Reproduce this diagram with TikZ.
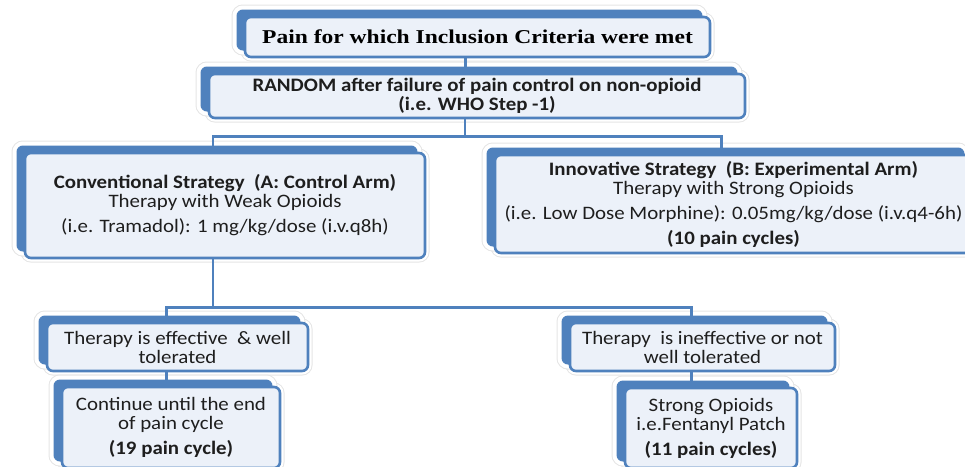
\documentclass[tikz,border=0pt]{standalone}
\usepackage{fontspec}
\setmainfont{Carlito}[FakeStretch=1.1]
\newfontfamily\titlefont{Liberation Serif}[FakeStretch=1.2]
\definecolor{flowblu}{RGB}{79,129,189}
\definecolor{flowbg}{RGB}{236,241,249}
\definecolor{flowtxt}{RGB}{30,30,30}
\usetikzlibrary{positioning}

\tikzset{
  card/.style={draw=flowblu, line width=2.6pt, fill=flowbg, rounded corners=6pt,
    inner sep=0pt, align=center, text=flowtxt,
    font=\fontsize{19}{19}\selectfont,
    preaction={draw=black!10, line width=9pt},
    preaction={draw=white, line width=7pt},
    preaction={draw=black!10, line width=11pt, transform canvas={shift={(-8pt,7pt)}}},
    preaction={draw=white, line width=9pt, transform canvas={shift={(-8pt,7pt)}}},
    preaction={draw=flowblu, fill=flowblu, line width=1pt, transform canvas={shift={(-8pt,7pt)}}}},
  link/.style={draw=flowblu, line width=2.6pt},
}

\begin{document}
\begin{tikzpicture}[x=1pt,y=1pt]
\useasboundingbox (0,0) rectangle (965,-466);
\clip (0,0) rectangle (965,-466);

% top of the flow
\node[card, minimum width=465pt, minimum height=40pt, text=black,
font=\titlefont\fontsize{19.6}{19}\selectfont\bfseries] (pain) at (477.5,-37)
{Pain for which Inclusion Criteria were met};
\node[card, minimum width=536pt, minimum height=44pt] (random) at (477,-96)
{\textbf{RANDOM after failure of pain control on non-opioid}\\
\textbf{(i.e. WHO Step -1)}};

% the two arms
\node[card, minimum width=400pt, minimum height=105pt] (conv) at (225,-205.5)
{\textbf{Conventional Strategy\ \ (A: Control Arm)}\\
Therapy with Weak Opioids\\[6pt]
(i.e. Tramadol): 1 mg/kg/dose (i.v.q8h)};
\node[card, minimum width=477pt, minimum height=98pt] (innov) at (733.5,-204)
{\textbf{Innovative Strategy\ \ (B: Experimental Arm)}\\
Therapy with Strong Opioids\\[6pt]
(i.e. Low Dose Morphine): 0.05mg/kg/dose (i.v.q4-6h)\\[6pt]
\textbf{(10 pain cycles)}};

% outcome of arm A
\node[card, minimum width=261pt, minimum height=48pt] (eff) at (177.5,-347)
{Therapy is effective\ \ \& well\\ tolerated};
\node[card, minimum width=265pt, minimum height=48pt] (ineff) at (702.5,-347)
{Therapy\ \ is ineffective or not\\ well tolerated};
\node[card, minimum width=218pt, minimum height=81pt] (cont) at (171,-427.5)
{Continue until the end\\ of pain cycle\\[6pt]
\textbf{(19 pain cycle)}};
\node[card, minimum width=172pt, minimum height=80pt] (strong) at (711,-428)
{Strong Opioids\\ i.e.Fentanyl Patch\\[6pt]
\textbf{(11 pain cycles)}};

% connectors
\coordinate (split1) at ([xshift=-12pt,yshift=-17pt]random.south);
\coordinate (split2) at ([xshift=-12pt,yshift=-48pt]conv.south);
\draw[link] ([xshift=-12pt]pain.south) -- ([xshift=-12pt]pain.south |- random.north);
\draw[link] ([xshift=-12pt]random.south) -- (split1);
\draw[link] (split1) -| ([xshift=-12pt]conv.north);
\draw[link] (split1) -| ([xshift=-12pt]innov.north);
\draw[link] ([xshift=-12pt]conv.south) -- (split2);
\draw[link] (split2) -| ([xshift=-11pt]eff.north);
\draw[link] (split2) -| ([xshift=-11pt]ineff.north);
\draw[link] ([xshift=-11pt]eff.south) -- ([xshift=-11pt]eff.south |- cont.north);
\draw[link] ([xshift=-11pt]ineff.south) -- ([xshift=-11pt]ineff.south |- strong.north);
\end{tikzpicture}
\end{document}
